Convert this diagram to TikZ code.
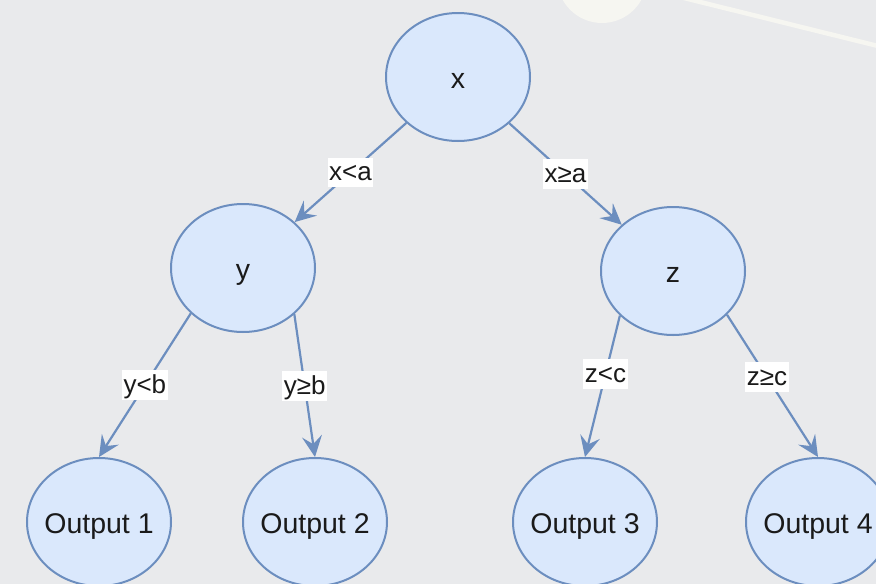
\documentclass[tikz,border=0pt]{standalone}
\usepackage{fontspec}
\setmainfont{Liberation Sans}
\usetikzlibrary{arrows.meta,shapes.geometric}
\definecolor{grisFondo}{HTML}{E9EAEC}
\definecolor{celeste}{HTML}{DAE8FC}
\definecolor{azulBorde}{HTML}{6C8EBF}
\definecolor{crema}{HTML}{F6F6F1}
\definecolor{tinta}{HTML}{1A1A1A}

\tikzset{
  nodo/.style={ellipse,draw=azulBorde,fill=celeste,line width=2pt,
    minimum width=144pt,minimum height=128pt,inner sep=0pt,text=tinta,
    text height=25.6pt,text depth=2.8pt,
    font=\fontsize{28.5}{34}\selectfont,
    execute at begin node=\hbox to 0pt\bgroup\hss,
    execute at end node=\hss\egroup},
  rama/.style={azulBorde,line width=2.2pt,
    -{Stealth[length=21pt,width=20pt,inset=8pt]}},
  cond/.style={fill=white,inner xsep=1.5pt,inner ysep=0pt,text=tinta,
    text height=23.4pt,text depth=6.5pt,font=\fontsize{26}{31}\selectfont}
}

\begin{document}
\begin{tikzpicture}[x=1pt,y=-1pt]
  \useasboundingbox (0,0) rectangle (876,584);
  \clip (0,0) rectangle (876,584);
  \fill[grisFondo] (0,0) rectangle (876,584);
  % adorno claro arriba
  \fill[crema] (602,-22) circle (45);
  \draw[crema,line width=4.5pt] (680,-3) -- (882,47);

  % arbol
  \node[nodo] (x) at (458,77) {x};
  \node[nodo] (y) at (243,268) {y};
  \node[nodo] (z) at (673,271) {z};
  \node[nodo] (o1) at (99,522) {Output 1};
  \node[nodo] (o2) at (315,522) {Output 2};
  \node[nodo] (o3) at (585,522) {Output 3};
  \node[nodo] (o4) at (818,522) {Output 4};

  \draw[rama] (x) -- (y) node[cond,midway]{x<a};
  \draw[rama] (x) -- (z) node[cond,midway]{x≥a};
  \draw[rama] (y.221) -- (o1.north) node[cond,midway]{y<b};
  \draw[rama] (y.318) -- (o2.north) node[cond,midway]{y≥b};
  \draw[rama] (z.220) -- (o3.north) node[cond,pos=.41]{z<c};
  \draw[rama] (z.321) -- (o4.north) node[cond,pos=.44]{z≥c};
\end{tikzpicture}
\end{document}
